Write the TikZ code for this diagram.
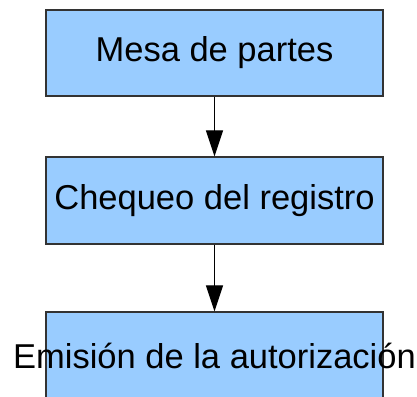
\documentclass[tikz,border=0pt]{standalone}
\usepackage{fontspec}
\setmainfont{Liberation Sans}
\usetikzlibrary{arrows.meta}
\definecolor{boxfill}{HTML}{99CCFF}
\definecolor{boxline}{HTML}{333333}
\begin{document}
\begin{tikzpicture}[x=1pt,y=1pt,
  stepbox/.style={draw=boxline,fill=boxfill,line width=1.2pt,minimum width=337pt,inner sep=0pt,
    font=\fontsize{34.5}{40}\selectfont,text=black},
  conn/.style={line width=1.1pt,-{Triangle[length=26pt,width=17pt]}}]
\useasboundingbox (0,0) rectangle (417,-396);
\node[stepbox,minimum height=86pt] (a) at (214.5,-53) {\makebox[0pt]{Mesa de partes}};
\node[stepbox,minimum height=87pt] (b) at (214.5,-200.5) {\makebox[0pt]{Chequeo del registro}};
\node[stepbox,minimum height=87pt] (c) at (214.5,-355.5) {\makebox[0pt]{Emisión de la autorización}};
\draw[conn] (a.south) -- (b.north);
\draw[conn] (b.south) -- (c.north);
\end{tikzpicture}
\end{document}
